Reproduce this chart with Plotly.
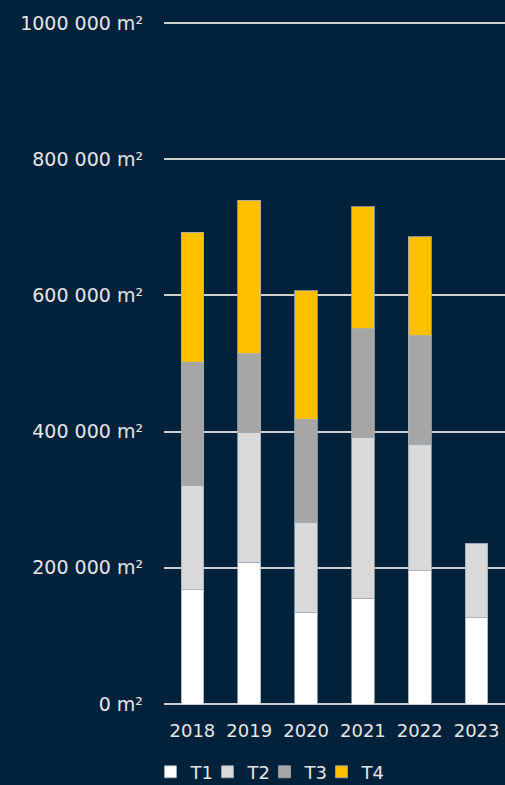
import plotly.graph_objects as go

years = ["2018", "2019", "2020", "2021", "2022", "2023"]
t1 = [168000, 208000, 134000, 155000, 196000, 127000]
t2 = [153000, 191000, 132000, 236000, 185000, 108000]
t3 = [181000, 115000, 152000, 160000, 160000, 0]
t4 = [191000, 226000, 189000, 179000, 145000, 0]
series_names = ["T1", "T2", "T3", "T4"]
series_colors = ["#FFFFFF", "#D9D9D9", "#A6A6A6", "#FFC000"]
tick_vals = [0, 200000, 400000, 600000, 800000, 1000000]
tick_text = ["0 m²", "200 000 m²", "400 000 m²", "600 000 m²", "800 000 m²", "1000 000 m²"]

bg = "#01223A"
txt = "#E6E6E6"
font_family = "DejaVu Sans"

fig = go.Figure()
for name, vals, col in zip(series_names, [t1, t2, t3, t4], series_colors):
    fig.add_trace(go.Bar(
        x=years, y=vals, name=name,
        marker=dict(color=col, line=dict(color="rgba(160,170,180,0.8)", width=1)),
        width=0.40,
    ))
# invisible spacer entry so the last legend label is not clipped
fig.add_trace(go.Scatter(
    x=[None], y=[None], mode="markers", name=" ",
    marker=dict(color="rgba(0,0,0,0)", size=1), hoverinfo="skip",
))

fig.update_layout(
    barmode="stack",
    width=505, height=785,
    paper_bgcolor=bg, plot_bgcolor=bg,
    margin=dict(l=164, r=0, t=22, b=81),
    font=dict(family=font_family, color=txt, size=18),
    showlegend=True,
    legend=dict(
        orientation="h", xref="container", yref="container",
        x=0.298, xanchor="left", y=0.04, yanchor="top",
        font=dict(size=18, color=txt), itemwidth=30, tracegroupgap=0,
        traceorder="normal", entrywidth=12,
    ),
)
fig.update_xaxes(
    showgrid=False, showline=False, zeroline=False,
    tickfont=dict(size=18, color=txt), ticks="", ticklabelstandoff=14,
)
fig.update_yaxes(
    range=[0, 1001500], tickvals=tick_vals, ticktext=tick_text,
    showgrid=True, gridcolor="#D0D0D0", gridwidth=1.5,
    zeroline=True, zerolinecolor="#D0D0D0", zerolinewidth=1.5,
    showline=False, ticks="", tickfont=dict(size=19, color=txt),
    ticklabelstandoff=20,
)

fig.write_html("out.html")
